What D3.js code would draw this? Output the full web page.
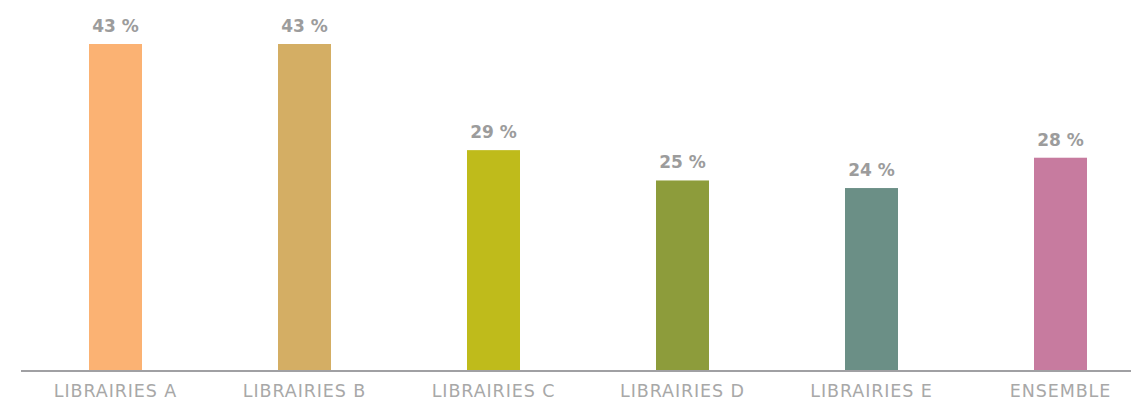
<!DOCTYPE html>
<html lang="fr">
<head>
<meta charset="UTF-8">
<title>Bar chart</title>
<style>
  body { margin: 0; background: #fff; }
  svg { display: block; }
</style>
</head>
<body>
<script src="https://d3js.org/d3.v7.min.js"></script>
<script>
// data
const categories = ['LIBRAIRIES A', 'LIBRAIRIES B', 'LIBRAIRIES C', 'LIBRAIRIES D', 'LIBRAIRIES E', 'ENSEMBLE'];
const values = [43, 43, 29, 25, 24, 28];
const colors = ['#fbb273', '#d4ae64', '#bfbb1b', '#8d9c3b', '#6b8f86', '#c77b9f'];

const width = 1131, height = 401;
const baseY = 370;

const svg = d3.select('body').append('svg')
    .attr('width', width)
    .attr('height', height);

const x = d3.scaleBand()
    .domain(categories)
    .range([21, 1155]);

const y = d3.scaleLinear()
    .domain([0, 43])
    .range([baseY, 44]);

const barW = 53;

// bars
svg.selectAll('rect.bar')
    .data(values)
    .enter()
    .append('rect')
    .attr('class', 'bar')
    .attr('x', (d, i) => x(categories[i]) + x.bandwidth() / 2 - barW / 2)
    .attr('y', d => y(d))
    .attr('width', barW)
    .attr('height', d => baseY - y(d))
    .style('fill', (d, i) => colors[i]);

// value labels
svg.selectAll('text.val')
    .data(values)
    .enter()
    .append('text')
    .attr('class', 'val')
    .attr('x', (d, i) => x(categories[i]) + x.bandwidth() / 2)
    .attr('y', d => y(d) - 12)
    .attr('text-anchor', 'middle')
    .style('font-family', '"DejaVu Sans", sans-serif')
    .style('font-weight', 'bold')
    .style('font-size', '17px')
    .style('fill', '#9c9c9c')
    .text(d => d + ' %');

// baseline
svg.append('line')
    .attr('x1', 21)
    .attr('x2', width)
    .attr('y1', baseY + 1)
    .attr('y2', baseY + 1)
    .style('stroke', '#a0a0a3')
    .style('stroke-width', 2);

// category labels
svg.selectAll('text.cat')
    .data(categories)
    .enter()
    .append('text')
    .attr('class', 'cat')
    .attr('x', d => x(d) + x.bandwidth() / 2)
    .attr('y', 397)
    .attr('text-anchor', 'middle')
    .style('font-family', '"DejaVu Sans", sans-serif')
    .style('font-size', '17.5px')
    .style('letter-spacing', '0.9px')
    .style('fill', '#a8a8a8')
    .text(d => d);
</script>
</body>
</html>
